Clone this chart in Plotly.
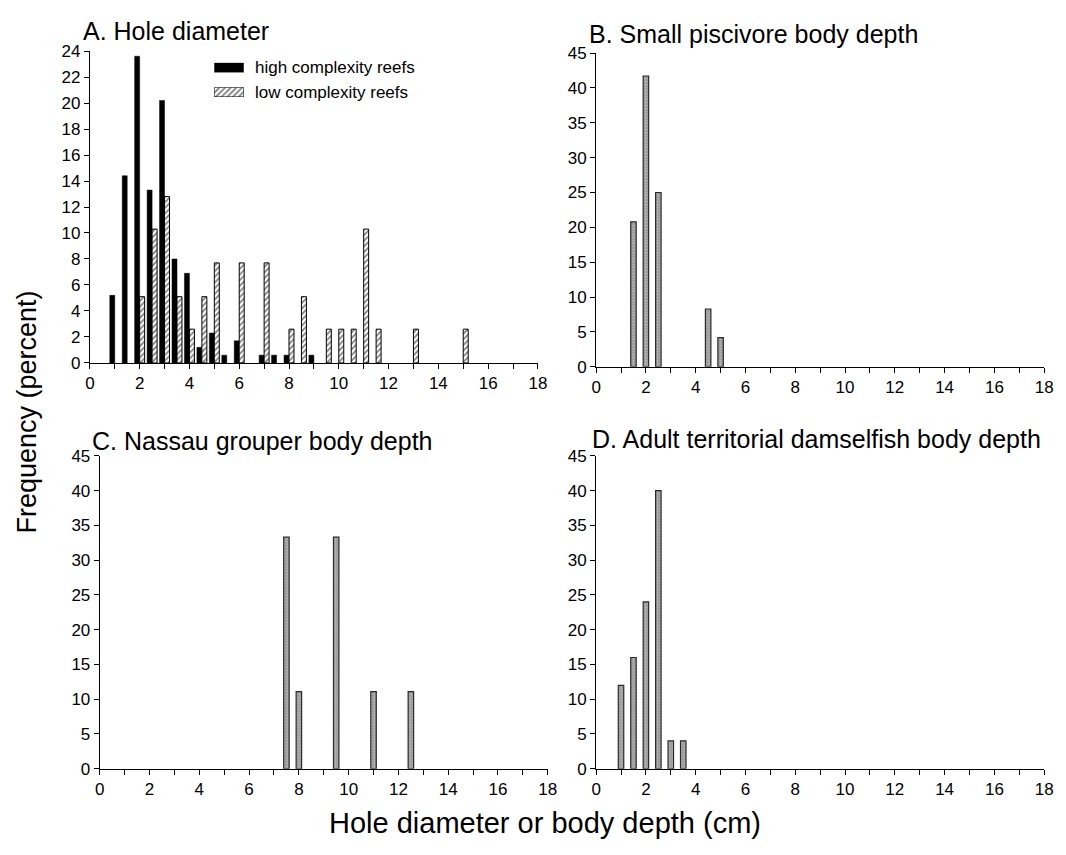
import plotly.graph_objects as go

# ---------------- data ----------------
a_high_x = [1.0, 1.5, 2.0, 2.5, 3.0, 3.5, 4.0, 4.5, 5.0, 5.5, 6.0, 7.0, 7.5, 8.0, 9.0]
a_high_y = [5.2, 14.4, 23.6, 13.3, 20.2, 8.0, 6.9, 1.2, 2.3, 0.6, 1.7, 0.6, 0.6, 0.6, 0.6]

a_low_x = [2.0, 2.5, 3.0, 3.5, 4.0, 4.5, 5.0, 6.0, 7.0, 8.0, 8.5, 9.5, 10.0, 10.5, 11.0, 11.5, 13.0, 15.0]
a_low_y = [5.1, 10.3, 12.8, 5.1, 2.6, 5.1, 7.7, 7.7, 7.7, 2.6, 5.1, 2.6, 2.6, 2.6, 10.3, 2.6, 2.6, 2.6]

b_x = [1.5, 2.0, 2.5, 4.5, 5.0]
b_y = [20.8, 41.7, 25.0, 8.3, 4.2]

c_x = [7.5, 8.0, 9.5, 11.0, 12.5]
c_y = [33.3, 11.1, 33.3, 11.1, 11.1]

d_x = [1.0, 1.5, 2.0, 2.5, 3.0, 3.5]
d_y = [12.0, 16.0, 24.0, 40.0, 4.0, 4.0]

panel_titles = ["A. Hole diameter", "B. Small piscivore body depth",
                "C. Nassau grouper body depth", "D. Adult territorial damselfish body depth"]
legend_names = ["high complexity reefs", "low complexity reefs"]
y_title = "Frequency (percent)"
x_title = "Hole diameter or body depth (cm)"

# ---------------- layout helpers ----------------
W, H = 1066, 855
FONT = "Liberation Sans, Arial, Helvetica, sans-serif"


def px_x(p):
    return p / W


def px_y(p):
    return 1 - p / H


black_marker = dict(color="black", line=dict(color="black", width=0.5))
hatch_marker = dict(color="white", line=dict(color="black", width=1),
                    pattern=dict(shape="/", fgcolor="black", bgcolor="white",
                                 size=4, solidity=0.45))
gray_marker = dict(color="#9a9a9a",
                   line=dict(color="#2a2a2a", width=1.2),
                   pattern=dict(shape=".", fgcolor="#dedede", bgcolor="#999999",
                                size=3, solidity=0.3))

fig = go.Figure()

# Panel A
fig.add_trace(go.Bar(x=a_high_x, y=a_high_y, name=legend_names[0], width=0.2, offset=-0.2,
                     marker=black_marker, xaxis="x", yaxis="y", showlegend=False))
fig.add_trace(go.Bar(x=a_low_x, y=a_low_y, name=legend_names[1], width=0.2, offset=0.0,
                     marker=hatch_marker, xaxis="x", yaxis="y", showlegend=False))
# Panel B
fig.add_trace(go.Bar(x=b_x, y=b_y, width=0.22, marker=gray_marker, showlegend=False,
                     xaxis="x2", yaxis="y2"))
# Panel C
fig.add_trace(go.Bar(x=c_x, y=c_y, width=0.22, marker=gray_marker, showlegend=False,
                     xaxis="x3", yaxis="y3"))
# Panel D
fig.add_trace(go.Bar(x=d_x, y=d_y, width=0.22, marker=gray_marker, showlegend=False,
                     xaxis="x4", yaxis="y4"))

# Legend swatches (wide patches, as in the original), drawn as bars on hidden mini-axes
fig.add_trace(go.Bar(x=[0], y=[1], width=1, marker=black_marker, showlegend=False,
                     hoverinfo="skip", xaxis="x5", yaxis="y5"))
fig.add_trace(go.Bar(x=[0], y=[1], width=1, marker=hatch_marker, showlegend=False,
                     hoverinfo="skip", xaxis="x6", yaxis="y6"))

tickfont = dict(family=FONT, size=17, color="black")


def xaxis(domain, anchor):
    return dict(domain=domain, anchor=anchor, range=[0, 18], dtick=2, tick0=0,
                showline=True, linecolor="black", linewidth=1, ticks="outside",
                ticklen=5, tickcolor="black", showgrid=False, zeroline=False,
                tickfont=tickfont,
                minor=dict(dtick=1, ticks="outside", ticklen=5, tickcolor="black",
                           showgrid=False))


def yaxis(domain, anchor, top, step):
    return dict(domain=domain, anchor=anchor, range=[0, top], dtick=step, tick0=0,
                showline=True, linecolor="black", linewidth=1, ticks="outside",
                ticklen=5, tickcolor="black", showgrid=False, zeroline=False,
                tickfont=tickfont)


def hidden(domain, anchor, rng):
    return dict(domain=domain, anchor=anchor, range=rng, visible=False,
                fixedrange=True, showgrid=False, zeroline=False)


leg_rows = [60, 85]
patch_x0, patch_x1 = 212, 242

fig.update_layout(
    width=W, height=H,
    margin=dict(l=0, r=0, t=0, b=0),
    paper_bgcolor="white", plot_bgcolor="white",
    barmode="overlay",
    font=dict(family=FONT, color="black"),
    xaxis=xaxis([px_x(86), px_x(540)], "y"),
    yaxis=yaxis([px_y(362), px_y(43)], "x", 24, 2),
    xaxis2=xaxis([px_x(599), px_x(1053)], "y2"),
    yaxis2=yaxis([px_y(366), px_y(45)], "x2", 45, 5),
    xaxis3=xaxis([px_x(96), px_x(550)], "y3"),
    yaxis3=yaxis([px_y(777), px_y(457)], "x3", 45, 5),
    xaxis4=xaxis([px_x(599), px_x(1053)], "y4"),
    yaxis4=yaxis([px_y(777), px_y(457)], "x4", 45, 5),
    xaxis5=hidden([px_x(patch_x0), px_x(patch_x1)], "y5", [-0.5, 0.5]),
    yaxis5=hidden([px_y(leg_rows[0] + 5), px_y(leg_rows[0] - 5)], "x5", [0, 1]),
    xaxis6=hidden([px_x(patch_x0), px_x(patch_x1)], "y6", [-0.5, 0.5]),
    yaxis6=hidden([px_y(leg_rows[1] + 5), px_y(leg_rows[1] - 5)], "x6", [0, 1]),
    showlegend=False,
)

for name, ry in zip(legend_names, leg_rows):
    fig.add_annotation(text=name, xref="paper", yref="paper", x=px_x(251), y=px_y(ry),
                       xanchor="left", yanchor="middle", showarrow=False,
                       font=dict(family=FONT, size=17, color="black"))

title_pos = [(77, 23), (590, 26), (86, 442), (593, 440)]
for txt, (tx, ty) in zip(panel_titles, title_pos):
    fig.add_annotation(text=txt, xref="paper", yref="paper", x=px_x(tx), y=px_y(ty),
                       xanchor="left", yanchor="middle", showarrow=False,
                       font=dict(family=FONT, size=25, color="black"))

fig.add_annotation(text=y_title, xref="paper", yref="paper", x=px_x(22), y=px_y(412),
                   xanchor="center", yanchor="middle", textangle=-90, showarrow=False,
                   font=dict(family=FONT, size=27, color="black"))
fig.add_annotation(text=x_title, xref="paper", yref="paper", x=px_x(547), y=px_y(832),
                   xanchor="center", yanchor="middle", showarrow=False,
                   font=dict(family=FONT, size=29, color="black"))

fig.write_html("out.html",
               config={"displayModeBar": False},
               post_script="document.body.style.margin='0';"
                           "document.body.style.overflow='hidden';")
